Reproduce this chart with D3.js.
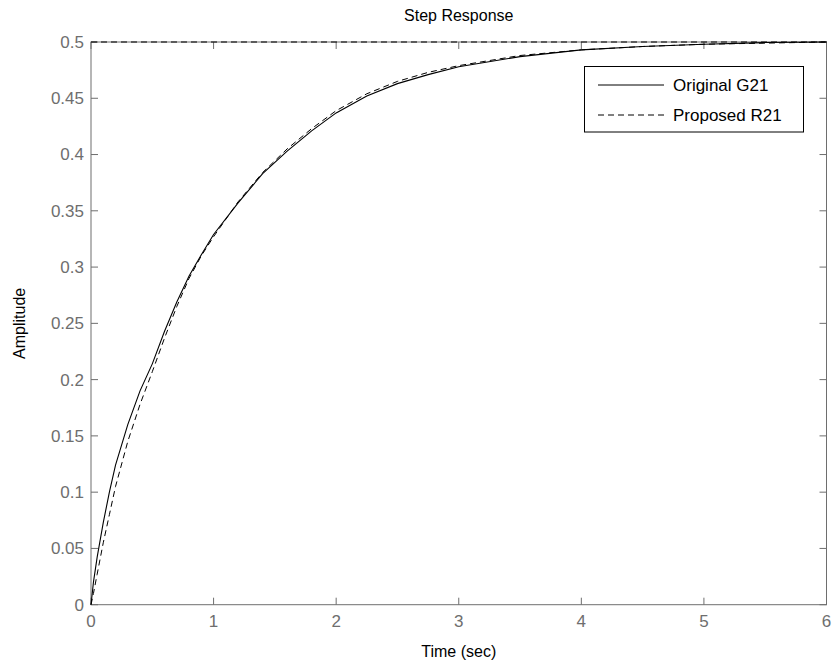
<!DOCTYPE html>
<html>
<head>
<meta charset="utf-8">
<script src="https://cdn.jsdelivr.net/npm/d3@7"></script>
<style>
  body { margin: 0; background: #fff; }
  svg { display: block; font-family: Arial, "Liberation Sans", sans-serif; }
</style>
</head>
<body>
<div id="chart"></div>
<script>
// time samples (sec)
const timeG = [0, 0.02, 0.05, 0.1, 0.15, 0.2, 0.3, 0.4, 0.5, 0.6, 0.7, 0.8, 0.9, 1.0, 1.2, 1.4, 1.6, 1.8, 2.0, 2.25, 2.5, 2.75, 3.0, 3.5, 4.0, 4.5, 5.0, 5.5, 6.0];
// Original G21 step response
const originalG21 = [0, 0.02, 0.042, 0.073, 0.1, 0.124, 0.16, 0.19, 0.214, 0.243, 0.269, 0.292, 0.311, 0.329, 0.357, 0.383, 0.403, 0.421, 0.437, 0.452, 0.463, 0.471, 0.478, 0.487, 0.493, 0.496, 0.498, 0.4995, 0.5];
// Proposed R21 step response
const proposedR21 = [0, 0.01, 0.027, 0.055, 0.08, 0.105, 0.145, 0.178, 0.207, 0.237, 0.265, 0.29, 0.31, 0.327, 0.358, 0.384, 0.405, 0.423, 0.439, 0.454, 0.465, 0.473, 0.479, 0.488, 0.493, 0.496, 0.498, 0.499, 0.5];
// steady-state level
const finalValue = 0.5;

const xTicks = [0, 1, 2, 3, 4, 5, 6];
const yTicks = [0, 0.05, 0.1, 0.15, 0.2, 0.25, 0.3, 0.35, 0.4, 0.45, 0.5];
const legendNames = ["Original G21", "Proposed R21"];

const W = 834, H = 669;
const margin = {top: 42, right: 7.5, bottom: 64.3, left: 91};
const width = W - margin.left - margin.right;
const height = H - margin.top - margin.bottom;
const axisColor = "#6e6e6e";
const tickLen = 7;

const svg = d3.select("#chart").append("svg")
    .attr("width", W)
    .attr("height", H);

const x = d3.scaleLinear().domain([0, 6]).range([margin.left, margin.left + width]);
const y = d3.scaleLinear().domain([0, 0.5]).range([margin.top + height, margin.top]);

// box
svg.append("rect")
    .attr("x", x(0)).attr("y", y(0.5))
    .attr("width", x(6) - x(0)).attr("height", y(0) - y(0.5))
    .attr("fill", "none").attr("stroke", axisColor).attr("stroke-width", 1);

// ticks inside on all four sides
let g = svg.append("g").attr("stroke", axisColor).attr("stroke-width", 1);
xTicks.forEach(t => {
    g.append("line").attr("x1", x(t)).attr("x2", x(t)).attr("y1", y(0)).attr("y2", y(0) - tickLen);
    g.append("line").attr("x1", x(t)).attr("x2", x(t)).attr("y1", y(0.5)).attr("y2", y(0.5) + tickLen);
});
yTicks.forEach(t => {
    g.append("line").attr("x1", x(0)).attr("x2", x(0) + tickLen).attr("y1", y(t)).attr("y2", y(t));
    g.append("line").attr("x1", x(6)).attr("x2", x(6) - tickLen).attr("y1", y(t)).attr("y2", y(t));
});

// tick labels
svg.append("g").selectAll("text")
    .data(xTicks).join("text")
    .attr("x", d => x(d)).attr("y", y(0) + 22)
    .attr("text-anchor", "middle")
    .attr("font-size", 17).attr("fill", axisColor)
    .text(d => d3.format("")(d));

svg.append("g").selectAll("text")
    .data(yTicks).join("text")
    .attr("x", x(0) - 7).attr("y", d => y(d)).attr("dy", "0.35em")
    .attr("text-anchor", "end")
    .attr("font-size", 17).attr("fill", axisColor)
    .text(d => d3.format("")(+d.toFixed(2)));

// curves
let line = d3.line().x(d => x(d[0])).y(d => y(d[1]));

svg.append("line")
    .attr("x1", x(0)).attr("x2", x(6)).attr("y1", y(finalValue)).attr("y2", y(finalValue))
    .attr("stroke", "#000").attr("stroke-width", 1.2).attr("stroke-dasharray", "6,4");

svg.append("path")
    .datum(timeG.map((t, i) => [t, proposedR21[i]]))
    .attr("d", line)
    .attr("fill", "none").attr("stroke", "#000").attr("stroke-width", 1)
    .attr("stroke-dasharray", "6,4");

svg.append("path")
    .datum(timeG.map((t, i) => [t, originalG21[i]]))
    .attr("d", line)
    .attr("fill", "none").attr("stroke", "#000").attr("stroke-width", 1.1);

// title and axis labels
svg.append("text")
    .attr("x", (x(0) + x(6)) / 2).attr("y", 21)
    .attr("text-anchor", "middle").attr("font-size", 16).attr("fill", "#000")
    .text("Step Response");

svg.append("text")
    .attr("x", (x(0) + x(6)) / 2).attr("y", y(0) + 52)
    .attr("text-anchor", "middle").attr("font-size", 16).attr("fill", "#000")
    .text("Time (sec)");

svg.append("text")
    .attr("transform", `translate(25,${(y(0) + y(0.5)) / 2}) rotate(-90)`)
    .attr("text-anchor", "middle").attr("font-size", 16).attr("fill", "#000")
    .text("Amplitude");

// legend
const lg = svg.append("g");
lg.append("rect")
    .attr("x", 584.5).attr("y", 66.5).attr("width", 219).attr("height", 65.5)
    .attr("fill", "#fff").attr("stroke", "#000").attr("stroke-width", 1);
legendNames.forEach((name, i) => {
    let ly = 85 + i * 30;
    lg.append("line")
        .attr("x1", 598).attr("x2", 664).attr("y1", ly).attr("y2", ly)
        .attr("stroke", "#000").attr("stroke-width", 1)
        .attr("stroke-dasharray", i === 0 ? null : "6,4");
    lg.append("text")
        .attr("x", 673).attr("y", ly).attr("dy", "0.35em")
        .attr("font-size", 17).attr("fill", "#000")
        .text(name);
});
</script>
</body>
</html>
